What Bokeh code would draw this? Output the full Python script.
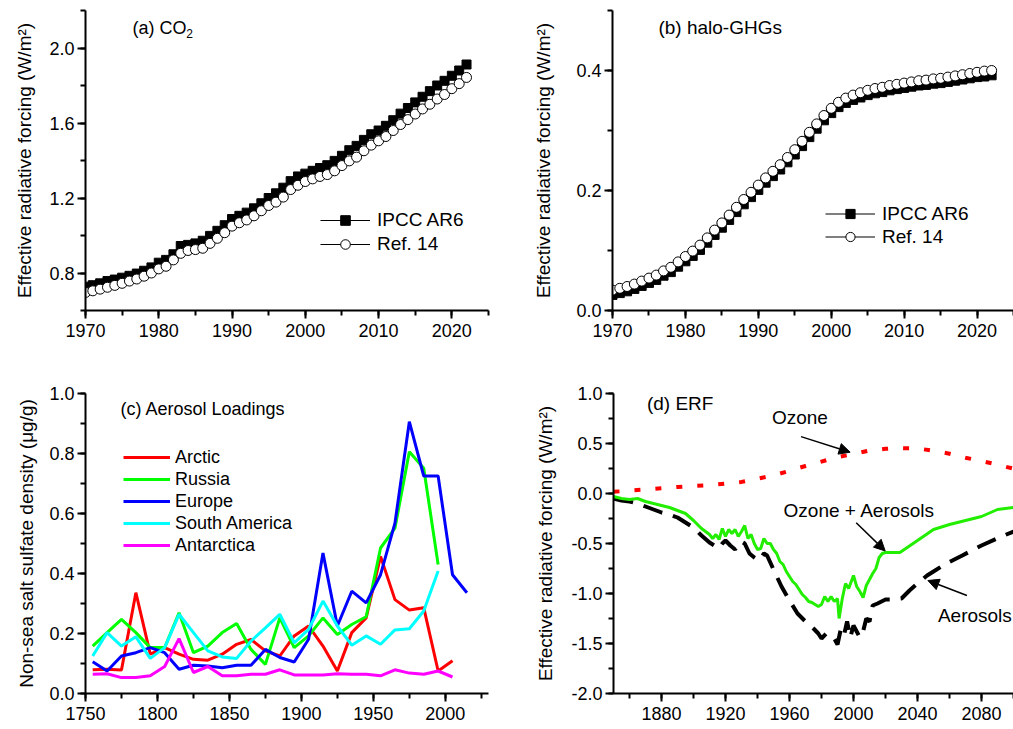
from bokeh.plotting import figure
from bokeh.layouts import column, row
from bokeh.models import (Range1d, SingleIntervalTicker, NumeralTickFormatter, Legend,
                          LegendItem, Label, Arrow, NormalHead)
from bokeh.embed import file_html
from bokeh.resources import INLINE

FONT = "Liberation Sans"

# ---------------- data ----------------
years_a = list(range(1970, 2023))
co2_ipcc = [0.727, 0.735, 0.745, 0.757, 0.765, 0.775, 0.785, 0.797, 0.812, 0.830,
            0.855, 0.870, 0.900, 0.944, 0.950, 0.958, 0.972, 0.998, 1.025, 1.055,
            1.088, 1.105, 1.122, 1.145, 1.172, 1.200, 1.225, 1.255, 1.290, 1.315,
            1.330, 1.345, 1.360, 1.375, 1.398, 1.425, 1.455, 1.478, 1.510, 1.540,
            1.560, 1.585, 1.615, 1.650, 1.680, 1.710, 1.740, 1.770, 1.800, 1.825,
            1.852, 1.880, 1.912]
co2_ref = [0.696, 0.705, 0.714, 0.724, 0.734, 0.745, 0.757, 0.768, 0.783, 0.800,
           0.822, 0.836, 0.870, 0.905, 0.920, 0.925, 0.932, 0.958, 0.985, 1.015,
           1.050, 1.068, 1.083, 1.105, 1.132, 1.160, 1.178, 1.205, 1.245, 1.268,
           1.288, 1.302, 1.315, 1.325, 1.345, 1.373, 1.398, 1.418, 1.452, 1.482,
           1.505, 1.528, 1.560, 1.592, 1.618, 1.648, 1.675, 1.700, 1.728, 1.752,
           1.783, 1.810, 1.843]
halo_ipcc = [0.026, 0.029, 0.032, 0.036, 0.041, 0.046, 0.051, 0.058, 0.064, 0.073,
             0.082, 0.091, 0.101, 0.113, 0.126, 0.138, 0.151, 0.164, 0.177, 0.189,
             0.201, 0.213, 0.224, 0.235, 0.247, 0.260, 0.274, 0.289, 0.303, 0.317,
             0.329, 0.339, 0.346, 0.351, 0.355, 0.359, 0.362, 0.364, 0.367, 0.369,
             0.371, 0.373, 0.375, 0.376, 0.378, 0.379, 0.381, 0.383, 0.385, 0.387,
             0.389, 0.390, 0.392]
halo_ref = [0.034, 0.037, 0.040, 0.044, 0.049, 0.054, 0.059, 0.066, 0.072, 0.081,
            0.090, 0.099, 0.109, 0.121, 0.134, 0.146, 0.159, 0.172, 0.185, 0.197,
            0.209, 0.221, 0.232, 0.243, 0.255, 0.268, 0.282, 0.297, 0.311, 0.325,
            0.337, 0.347, 0.354, 0.359, 0.363, 0.367, 0.370, 0.372, 0.375, 0.377,
            0.379, 0.381, 0.383, 0.384, 0.386, 0.387, 0.389, 0.391, 0.393, 0.395,
            0.397, 0.399, 0.400]

years_c = [1755, 1765, 1775, 1785, 1795, 1805, 1815, 1825, 1835, 1845, 1855, 1865,
           1875, 1885, 1895, 1905, 1915, 1925, 1935, 1945, 1955, 1965, 1975, 1985,
           1995, 2005, 2015]
arctic = [0.079, 0.081, 0.078, 0.336, 0.131, 0.153, 0.131, 0.114, 0.111, 0.131,
          0.164, 0.180, 0.142, 0.125, 0.192, 0.225, 0.158, 0.075, 0.203, 0.252,
          0.457, 0.313, 0.278, 0.286, 0.075, 0.109]
russia = [0.158, 0.203, 0.247, 0.203, 0.153, 0.153, 0.269, 0.136, 0.158, 0.203,
          0.233, 0.147, 0.097, 0.252, 0.153, 0.192, 0.252, 0.197, 0.230, 0.256,
          0.485, 0.551, 0.806, 0.751, 0.430]
europe = [0.106, 0.075, 0.125, 0.136, 0.153, 0.136, 0.081, 0.094, 0.092, 0.086,
          0.094, 0.094, 0.147, 0.120, 0.105, 0.181, 0.468, 0.225, 0.341, 0.302,
          0.396, 0.568, 0.906, 0.725, 0.725, 0.396, 0.336]
south_america = [0.125, 0.203, 0.158, 0.189, 0.117, 0.153, 0.264, 0.203, 0.142, 0.122,
                 0.117, 0.175, 0.219, 0.264, 0.169, 0.214, 0.308, 0.225, 0.161, 0.192,
                 0.164, 0.212, 0.216, 0.275, 0.408]
antarctica = [0.064, 0.066, 0.053, 0.053, 0.059, 0.090, 0.183, 0.070, 0.090, 0.059,
              0.059, 0.064, 0.064, 0.079, 0.062, 0.062, 0.062, 0.066, 0.064, 0.064,
              0.059, 0.079, 0.068, 0.064, 0.075, 0.055]

ozone_years = [1850, 1870, 1890, 1910, 1930, 1950, 1970, 1990, 2000, 2010, 2020, 2030,
               2040, 2050, 2060, 2070, 2080, 2090, 2100]
ozone = [0.017, 0.040, 0.066, 0.083, 0.116, 0.180, 0.275, 0.364, 0.394, 0.430, 0.447,
         0.454, 0.451, 0.427, 0.398, 0.358, 0.325, 0.288, 0.248]

aer_years = [1850, 1855, 1860, 1865, 1870, 1875, 1880, 1885, 1890, 1895, 1900, 1905,
             1910, 1913, 1916, 1918, 1920, 1923, 1926, 1928, 1930, 1932, 1935, 1938,
             1941, 1944, 1946, 1950, 1955, 1960, 1965, 1970, 1975, 1978, 1980, 1983,
             1986, 1988, 1990, 1992, 1994, 1996, 1998, 2000, 2002, 2004, 2006, 2008,
             2010, 2012, 2015, 2020, 2025, 2030, 2035, 2040, 2046, 2050, 2058, 2068,
             2080, 2091, 2100]
aerosols = [-0.05, -0.07, -0.08, -0.10, -0.13, -0.16, -0.19, -0.21, -0.24, -0.29, -0.34, -0.42,
            -0.49, -0.52, -0.55, -0.50, -0.47, -0.52, -0.56, -0.50, -0.48, -0.50, -0.60, -0.64,
            -0.67, -0.60, -0.62, -0.76, -0.93, -1.07, -1.20, -1.28, -1.35, -1.40, -1.45, -1.40,
            -1.42, -1.45, -1.51, -1.36, -1.42, -1.28, -1.44, -1.32, -1.38, -1.44, -1.38, -1.25,
            -1.28, -1.12, -1.10, -1.06, -1.06, -1.05, -0.97, -0.90, -0.82, -0.78, -0.70, -0.62,
            -0.52, -0.44, -0.38]

both_years = [1850, 1855, 1860, 1865, 1870, 1875, 1880, 1885, 1890, 1895, 1900, 1905,
              1910, 1912, 1914, 1916, 1918, 1920, 1922, 1924, 1926, 1928, 1930, 1932,
              1934, 1936, 1938, 1940, 1942, 1944, 1946, 1948, 1950, 1952, 1954, 1956,
              1958, 1960, 1962, 1964, 1966, 1968, 1970, 1972, 1974, 1976, 1978, 1980,
              1982, 1984, 1986, 1988, 1990, 1991, 1993, 1995, 1997, 2000, 2002, 2004,
              2006, 2008, 2010, 2012, 2014, 2016, 2018, 2020, 2029, 2040, 2050, 2060,
              2070, 2080, 2090, 2100]
ozone_aerosols = [-0.03, -0.05, -0.06, -0.05, -0.08, -0.10, -0.12, -0.14, -0.17, -0.20, -0.27, -0.35,
                  -0.41, -0.45, -0.41, -0.46, -0.35, -0.43, -0.36, -0.40, -0.36, -0.43, -0.38, -0.32,
                  -0.45, -0.41, -0.50, -0.56, -0.55, -0.45, -0.50, -0.50, -0.56, -0.60, -0.68, -0.71,
                  -0.78, -0.83, -0.88, -0.91, -0.96, -1.01, -1.04, -1.08, -1.09, -1.11, -1.13, -1.11,
                  -1.03, -1.08, -1.03, -1.08, -1.05, -1.25, -1.05, -0.90, -0.95, -0.82, -0.93, -0.98,
                  -1.04, -0.92, -0.86, -0.80, -0.75, -0.64, -0.60, -0.59, -0.59, -0.47, -0.36, -0.31,
                  -0.27, -0.23, -0.16, -0.14]


# ---------------- helpers ----------------
def make_fig(w, h, xr, yr, bl, br, bt, bb):
    p = figure(width=w, height=h, x_range=Range1d(*xr), y_range=Range1d(*yr),
               output_backend="svg", toolbar_location=None,
               min_border_left=bl, min_border_right=br, min_border_top=bt,
               min_border_bottom=bb)
    p.outline_line_color = None
    p.xgrid.visible = False
    p.ygrid.visible = False
    return p


def style_axes(p, xint, yint, ylabel, lab_standoff):
    p.xaxis.ticker = SingleIntervalTicker(interval=xint, num_minor_ticks=2)
    p.yaxis.ticker = SingleIntervalTicker(interval=yint, num_minor_ticks=2)
    p.yaxis.formatter = NumeralTickFormatter(format="0.0")
    p.yaxis.axis_label = ylabel
    p.yaxis.axis_label_standoff = lab_standoff
    p.yaxis.axis_label_text_font = FONT
    p.yaxis.axis_label_text_font_size = "19px"
    p.yaxis.axis_label_text_font_style = "normal"
    p.yaxis.axis_label_text_color = "black"
    for ax in (p.xaxis, p.yaxis):
        ax.axis_line_width = 2
        ax.major_tick_line_width = 2
        ax.minor_tick_line_width = 2
        ax.major_tick_out = 8
        ax.major_tick_in = 0
        ax.minor_tick_out = 5
        ax.minor_tick_in = 0
        ax.major_label_text_font = FONT
        ax.major_label_text_font_size = "18px"
        ax.major_label_text_color = "black"
        ax.axis_line_color = "black"
        ax.major_tick_line_color = "black"
        ax.minor_tick_line_color = "black"
    p.yaxis.major_label_standoff = 3
    p.xaxis.major_label_standoff = 5


def title(p, x, y, txt, size="19px"):
    p.add_layout(Label(x=x, y=y, text=txt, text_font=FONT, text_font_size=size,
                       text_baseline="middle", text_align="left", text_color="black"))


def std_legend(p, r1, r2, loc, standoff, h):
    lg = Legend(items=[LegendItem(label="IPCC AR6", renderers=r1),
                       LegendItem(label="Ref. 14", renderers=r2)],
                location=loc, padding=0, margin=0, spacing=0,
                glyph_width=50, glyph_height=h, label_height=h, label_standoff=standoff,
                label_text_font=FONT, label_text_font_size="19px",
                label_text_color="black",
                background_fill_alpha=0, border_line_color=None)
    p.add_layout(lg)


# ---------------- panel (a) ----------------
pa = make_fig(506, 364, (1970, 2025), (0.6, 2.2), 85, 18, 10, 53)
style_axes(pa, 10, 0.4, "Effective radiative forcing (W/m²)", 11)
la1 = pa.line(years_a, co2_ipcc, line_color="black", line_width=1)
sa1 = pa.scatter(years_a, co2_ipcc, marker="square", size=9, fill_color="black",
                 line_color="black")
la2 = pa.line(years_a, co2_ref, line_color="black", line_width=1)
sa2 = pa.scatter(years_a, co2_ref, marker="circle", size=10, fill_color="white",
                 line_color="black", line_width=1)
title(pa, 1976.4, 2.107, "(a) CO", "18px")
title(pa, 1983.75, 2.077, "2", "12px")
std_legend(pa, [la1, sa1], [la2, sa2], (235, 54), 7, 24)

# ---------------- panel (b) ----------------
pb = make_fig(507, 364, (1970, 2025), (0.0, 0.5), 106, 0, 8, 54)
style_axes(pb, 10, 0.2, "Effective radiative forcing (W/m²)", 19)
lb1 = pb.line(years_a, halo_ipcc, line_color="black", line_width=1)
sb1 = pb.scatter(years_a, halo_ipcc, marker="square", size=9, fill_color="black",
                 line_color="black")
lb2 = pb.line(years_a, halo_ref, line_color="black", line_width=1)
sb2 = pb.scatter(years_a, halo_ref, marker="circle", size=10, fill_color="white",
                 line_color="black", line_width=1)
title(pb, 1976.3, 0.472, "(b) halo-GHGs")
std_legend(pb, [lb1, sb1], [lb2, sb2], (213, 62), 7, 23)

# ---------------- panel (c) ----------------
pc = make_fig(506, 365, (1750, 2030), (0.0, 1.0), 85, 18, 29, 35)
style_axes(pc, 50, 0.2, "Non-sea salt sulfate density (μg/g)", 9)
series_c = [("Arctic", arctic, "#ff0000"), ("Russia", russia, "#00ff00"),
            ("Europe", europe, "#0000ff"), ("South America", south_america, "#00ffff"),
            ("Antarctica", antarctica, "#ff00ff")]
items_c = []
for name, vals, col in series_c:
    r = pc.line(years_c[:len(vals)], vals, line_color=col, line_width=3)
    items_c.append(LegendItem(label=name, renderers=[r]))
lc = Legend(items=items_c, location=(38, 137), padding=0, margin=0, spacing=0,
            glyph_width=47, glyph_height=22, label_height=22, label_standoff=5,
            label_text_font=FONT, label_text_font_size="18px", label_text_color="black",
            background_fill_alpha=0, border_line_color=None)
pc.add_layout(lc)
title(pc, 1774.3, 0.948, "(c) Aerosol Loadings", "18px")

# ---------------- panel (d) ----------------
pd_ = make_fig(507, 365, (1850, 2100), (-2.0, 1.0), 107, 0, 28, 36)
style_axes(pd_, 40, 0.5, "Effective radiative forcing (W/m²)", 12)
pd_.line(ozone_years, ozone, line_color="#ff0000", line_width=4, line_dash="6 15")
pd_.line(aer_years, aerosols, line_color="black", line_width=4, line_dash="20 11")
pd_.line(both_years, ozone_aerosols, line_color="#22ee00", line_width=3)
title(pd_, 1870.9, 0.90, "(d) ERF")
title(pd_, 1949.0, 0.758, "Ozone")
title(pd_, 1956.3, -0.166, "Ozone + Aerosols")
title(pd_, 2052.75, -1.22, "Aerosols")
for xs, ys, xe, ye in [(1967.2, 0.569, 1997.9, 0.413),
                       (2001.7, -0.292, 2019.8, -0.574),
                       (2070.9, -1.02, 2046.5, -0.87)]:
    pd_.add_layout(Arrow(end=NormalHead(size=11, fill_color="black", line_color="black"),
                         x_start=xs, y_start=ys, x_end=xe, y_end=ye,
                         line_color="black", line_width=1.5))

layout = column(row(pa, pb, spacing=0), row(pc, pd_, spacing=0), spacing=0)
open("out.html", "w").write(file_html(layout, INLINE))
